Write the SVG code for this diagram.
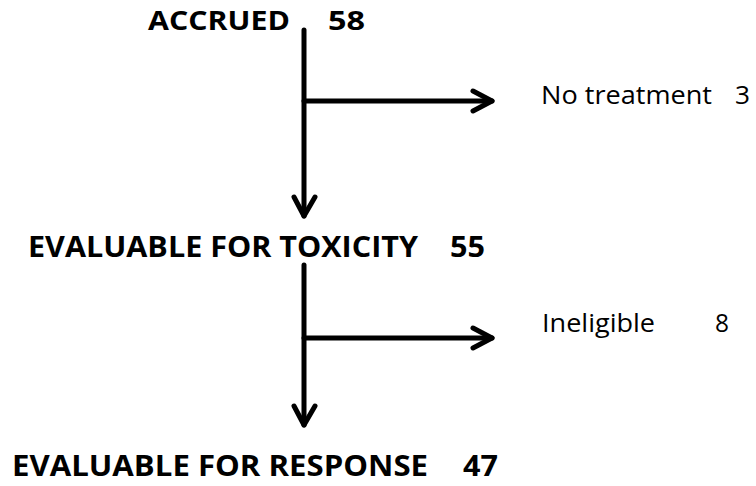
<svg xmlns="http://www.w3.org/2000/svg" width="756" height="486" viewBox="0 0 756 486">
<style>
.b{font-family:"Open Sans","Liberation Sans",sans-serif;font-weight:700;font-size:29px;fill:#000}
.r{font-family:"Open Sans","Liberation Sans",sans-serif;font-weight:400;font-size:26px;fill:#000}
.ln{stroke:#000;stroke-width:5;fill:none;stroke-linecap:round;stroke-linejoin:round}
</style>
<rect width="756" height="486" fill="#fff"/>
<g id="connectors">
<line class="ln" x1="304" y1="30" x2="304" y2="216"/>
<polyline class="ln" points="294,197 304,216 315,197"/>
<line class="ln" x1="304" y1="101" x2="492" y2="101"/>
<polyline class="ln" points="473,91 492,101 473,111"/>
<line class="ln" x1="304" y1="265" x2="304" y2="425"/>
<polyline class="ln" points="294,406 304,425 315,406"/>
<line class="ln" x1="304" y1="338" x2="492" y2="338"/>
<polyline class="ln" points="473,328 492,338 473,348"/>
</g>
<g id="accrued">
<text class="b" x="148" y="30" style="font-size:27px" textLength="142" lengthAdjust="spacingAndGlyphs">ACCRUED</text>
<text class="b" x="328" y="30" style="font-size:27px" textLength="37" lengthAdjust="spacingAndGlyphs">58</text>
</g>
<g id="no-treatment">
<text class="r" x="541" y="104" textLength="171" lengthAdjust="spacingAndGlyphs">No treatment</text>
<text class="r" x="735" y="104" textLength="15" lengthAdjust="spacingAndGlyphs">3</text>
</g>
<g id="toxicity">
<text class="b" x="28" y="257" textLength="390" lengthAdjust="spacingAndGlyphs">EVALUABLE FOR TOXICITY</text>
<text class="b" x="450" y="257" textLength="35" lengthAdjust="spacingAndGlyphs">55</text>
</g>
<g id="ineligible">
<text class="r" x="542" y="332" textLength="113" lengthAdjust="spacingAndGlyphs">Ineligible</text>
<text class="r" x="715" y="332" textLength="14" lengthAdjust="spacingAndGlyphs">8</text>
</g>
<g id="response">
<text class="b" x="12" y="476" textLength="416" lengthAdjust="spacingAndGlyphs">EVALUABLE FOR RESPONSE</text>
<text class="b" x="463" y="476" textLength="35" lengthAdjust="spacingAndGlyphs">47</text>
</g>
</svg>
